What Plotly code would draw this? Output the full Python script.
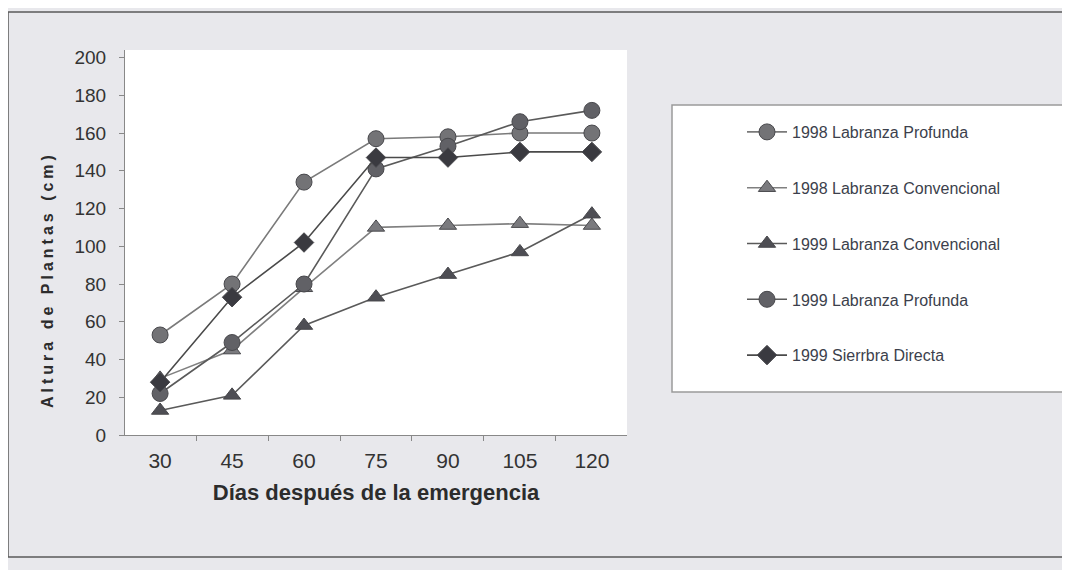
import plotly.graph_objects as go

dias = ["30", "45", "60", "75", "90", "105", "120"]
lp_1998 = [53, 80, 134, 157, 158, 160, 160]
lc_1998 = [30, 45, 78, 110, 111, 112, 111]
lc_1999 = [13, 21, 58, 73, 85, 97, 117]
lp_1999 = [22, 49, 80, 141, 153, 166, 172]
sd_1999 = [28, 73, 102, 147, 147, 150, 150]

series = [
    ("1998 Labranza Profunda", lp_1998, "circle", 16, "#737376", "#7a7a7a"),
    ("1998 Labranza Convencional", lc_1998, "triangle-up", 15, "#7a7a7e", "#808080"),
    ("1999 Labranza Convencional", lc_1999, "triangle-up", 15, "#4e4e54", "#5a5a5a"),
    ("1999 Labranza Profunda", lp_1999, "circle", 16, "#616166", "#5a5a5a"),
    ("1999 Sierrbra Directa", sd_1999, "diamond", 15, "#3a3a40", "#4a4a4a"),
]

fig = go.Figure()
for i, (name, vals, sym, size, mcol, lcol) in enumerate(series):
    fig.add_trace(go.Scatter(
        x=dias, y=vals, name=name, mode="lines+markers",
        line=dict(color=lcol, width=1.6),
        marker=dict(symbol=sym, size=size, color=mcol,
                    line=dict(color="#48484c", width=1)),
        legendgroup=f"g{i}",
    ))

font_main = "Liberation Sans, Arial, sans-serif"

# The page body adds an 8px offset; figure is sized so the screen layout matches.
W, H = 1062, 562
L, T = 117, 42          # plot area screen x 125..627, y 50..435
PW, PH = 502, 385


def px(xs):
    return (xs - 125) / PW


def py(ys):
    return (435 - ys) / PH


fig.update_layout(
    width=W, height=H,
    margin=dict(l=L, r=W - L - PW, t=T, b=H - T - PH),
    paper_bgcolor="#e8e8ec",
    plot_bgcolor="#ffffff",
    font=dict(family=font_main, color="#333333"),
    showlegend=True,
    legend=dict(
        x=px(742), xanchor="left",
        y=py(115), yanchor="top",
        bgcolor="rgba(0,0,0,0)",
        font=dict(size=16, color="#3c3f4c", family=font_main),
        tracegroupgap=32,
        itemwidth=40,
    ),
    xaxis=dict(
        type="category",
        showline=True, linecolor="#888888", linewidth=1,
        ticks="outside", tickson="boundaries", ticklen=5, tickcolor="#888888",
        tickfont=dict(size=21, color="#333333"),
        ticklabelstandoff=7,
        showgrid=False, zeroline=False,
        title=dict(text="<b>Días después de la emergencia</b>",
                   font=dict(size=22, color="#2c2c2c"), standoff=13),
    ),
    yaxis=dict(
        range=[0, 204], tickvals=list(range(0, 201, 20)),
        showline=True, linecolor="#888888", linewidth=1,
        ticks="outside", ticklen=5, tickcolor="#888888",
        tickfont=dict(size=19, color="#333333"),
        ticklabelstandoff=9,
        showgrid=False, zeroline=False,
    ),
    annotations=[
        dict(text="<b><span style='letter-spacing:4px'>Altura de Plantas (cm)</span></b>",
             textangle=-90,
             xref="paper", yref="paper",
             x=px(47), y=py(280),
             xanchor="center", yanchor="middle", showarrow=False,
             font=dict(size=16, color="#2c2c2c", family=font_main)),
    ],
    shapes=[
        # legend box
        dict(type="rect", xref="paper", yref="paper", layer="below",
             x0=px(672), x1=px(1063), y0=py(392), y1=py(105),
             fillcolor="#ffffff", line=dict(color="#9a9a9a", width=1.5)),
        # outer frame
        dict(type="rect", xref="paper", yref="paper", layer="above",
             x0=px(8), x1=px(1063), y0=py(557), y1=py(12),
             fillcolor="rgba(0,0,0,0)", line=dict(color="#5a5a5a", width=1.5)),
    ],
)

fig.write_html("out.html")
